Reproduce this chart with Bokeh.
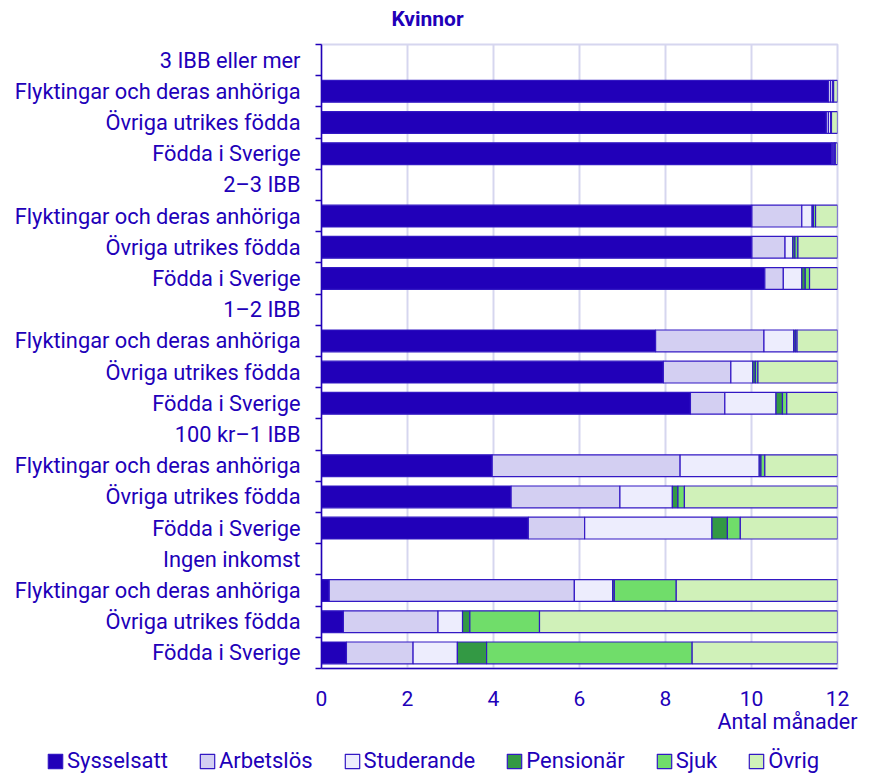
from bokeh.plotting import figure
from bokeh.models import Range1d, FixedTicker, Label
from bokeh.layouts import column
from bokeh.embed import file_html
from bokeh.resources import INLINE

# Row labels, top to bottom (group headers included)
row_labels = [
    "3 IBB eller mer", "Flyktingar och deras anhöriga", "Övriga utrikes födda", "Födda i Sverige",
    "2\u20133 IBB", "Flyktingar och deras anhöriga", "Övriga utrikes födda", "Födda i Sverige",
    "1\u20132 IBB", "Flyktingar och deras anhöriga", "Övriga utrikes födda", "Födda i Sverige",
    "100 kr\u20131 IBB", "Flyktingar och deras anhöriga", "Övriga utrikes födda", "Födda i Sverige",
    "Ingen inkomst", "Flyktingar och deras anhöriga", "Övriga utrikes födda", "Födda i Sverige",
]
header_rows = [0, 4, 8, 12, 16]

series_names = ["Sysselsatt", "Arbetslös", "Studerande", "Pensionär", "Sjuk", "Övrig"]

# Values for the data rows, top to bottom (months)
sysselsatt = [11.79, 11.74, 11.87, 10.01, 10.01, 10.31, 7.77, 7.95, 8.58, 3.97, 4.41, 4.81, 0.18, 0.51, 0.58]
arbetslos  = [0.05, 0.05, 0.03, 1.16, 0.77, 0.43, 2.52, 1.57, 0.80, 4.37, 2.53, 1.31, 5.70, 2.20, 1.55]
studerande = [0.05, 0.05, 0.03, 0.24, 0.18, 0.43, 0.69, 0.51, 1.19, 1.84, 1.22, 2.96, 0.89, 0.57, 1.03]
pensionar  = [0.00, 0.01, 0.01, 0.03, 0.05, 0.08, 0.04, 0.06, 0.15, 0.04, 0.13, 0.36, 0.04, 0.17, 0.68]
sjuk       = [0.02, 0.01, 0.01, 0.05, 0.07, 0.10, 0.04, 0.06, 0.10, 0.09, 0.15, 0.30, 1.44, 1.62, 4.78]
ovrig      = [0.09, 0.14, 0.05, 0.51, 0.92, 0.65, 0.94, 1.85, 1.18, 1.69, 3.56, 2.26, 3.75, 6.93, 3.38]

x_ticks = [0, 2, 4, 6, 8, 10, 12]

BLUE = "#2100b9"
EDGE = "#3318c4"
GRID = "#d6d6ef"
colors = ["#2100b9", "#d3cff2", "#ededfd", "#339944", "#70dd6a", "#d0f1b9"]
FONT = "Roboto"
FS = "21px"

data_rows = [i for i in range(len(row_labels)) if i not in header_rows]
ys = [i + 0.5 for i in data_rows]

src = dict(y=ys)
for name, vals in zip(series_names, [sysselsatt, arbetslos, studerande, pensionar, sjuk, ovrig]):
    src[name] = vals


def strip(h):
    f = figure(width=871, height=h, output_backend="svg", toolbar_location=None,
               x_range=Range1d(0, 871), y_range=Range1d(h, 0),
               x_axis_location=None, y_axis_location=None,
               min_border=0, min_border_left=0, min_border_right=0,
               min_border_top=0, min_border_bottom=0)
    try:
        f.frame_align = False
    except Exception:
        pass
    f.grid.visible = False
    f.outline_line_color = None
    return f


# Title strip
H0 = 42
top = strip(H0)
top.add_layout(Label(x=427, y=18, text="Kvinnor", text_align="center",
                     text_baseline="middle", text_color=BLUE, text_font=FONT,
                     text_font_size="21px", text_font_style="bold"))

# Main chart
H1 = 710 - H0
p = figure(width=871, height=H1, output_backend="svg", toolbar_location=None,
           x_range=Range1d(0, 12), y_range=Range1d(len(row_labels), 0),
           min_border_left=321, min_border_right=34, min_border_top=44 - H0,
           min_border_bottom=710 - 668)
try:
    p.frame_align = False
except Exception:
    pass

p.hbar_stack(series_names, y="y", height=0.7, source=src, fill_color=colors,
             line_color=EDGE, line_width=1.2)

p.xaxis.ticker = FixedTicker(ticks=x_ticks)
p.xaxis.major_tick_out = 0
p.xaxis.major_tick_in = 0
p.xaxis.minor_tick_out = 0
p.xaxis.minor_tick_in = 0
p.xaxis.axis_line_color = BLUE
p.xaxis.axis_line_width = 1.5
p.xaxis.major_label_text_color = BLUE
p.xaxis.major_label_text_font = FONT
p.xaxis.major_label_text_font_size = FS
p.xaxis.major_label_standoff = 22

p.yaxis.ticker = FixedTicker(ticks=[i + 0.5 for i in range(len(row_labels))],
                             minor_ticks=list(range(len(row_labels) + 1)))
p.yaxis.major_label_overrides = {i + 0.5: lab for i, lab in enumerate(row_labels)}
p.yaxis.major_tick_out = 0
p.yaxis.major_tick_in = 0
p.yaxis.minor_tick_out = 6
p.yaxis.minor_tick_in = 0
p.yaxis.minor_tick_line_color = BLUE
p.yaxis.minor_tick_line_width = 1.5
p.yaxis.axis_line_color = BLUE
p.yaxis.axis_line_width = 1.5
p.yaxis.major_label_text_color = BLUE
p.yaxis.major_label_text_font = FONT
p.yaxis.major_label_text_font_size = "21.8px"
p.yaxis.major_label_standoff = 15

p.xgrid.ticker = FixedTicker(ticks=x_ticks)
p.xgrid.grid_line_color = GRID
p.xgrid.grid_line_width = 2
p.ygrid.grid_line_color = None
p.outline_line_color = GRID
p.outline_line_width = 2

# Strip below the chart: axis title and legend
H2 = 774 - 710
lf = strip(H2)
lf.add_layout(Label(x=857, y=11, text="Antal månader", text_align="right",
                    text_baseline="middle", text_color=BLUE, text_font=FONT,
                    text_font_size="21.5px"))

for name, col in zip(series_names, colors):
    lf.hbar(y=[5000], left=[-5000], right=[-4990], height=1, fill_color=col,
            line_color=EDGE, line_width=1.2, legend_label=name)

lg = lf.legend[0]
lg.orientation = "horizontal"
lg.location = (46, 1)
lg.glyph_width = 18
lg.glyph_height = 18
lg.label_standoff = 3
lg.spacing = 30
lg.padding = 0
lg.margin = 0
lg.border_line_color = None
lg.background_fill_alpha = 0
lg.label_text_color = BLUE
lg.label_text_font = FONT
lg.label_text_font_size = "22px"

layout = column(top, p, lf, spacing=0)
open("out.html", "w").write(file_html(layout, INLINE))
